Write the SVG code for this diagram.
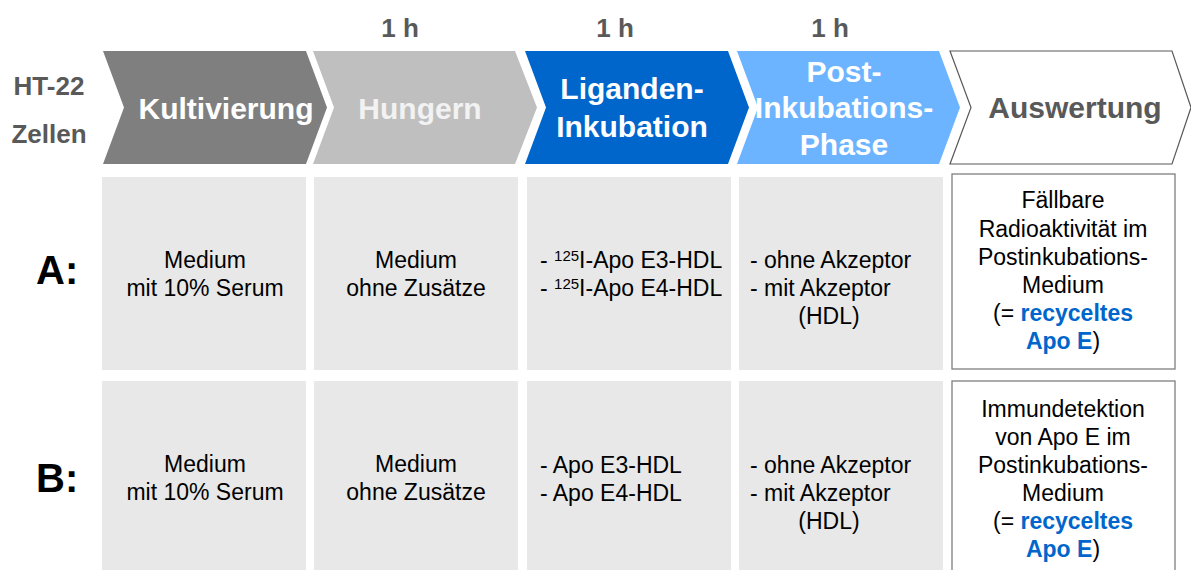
<svg xmlns="http://www.w3.org/2000/svg" width="1191" height="570" viewBox="0 0 1191 570">
<style>
text{font-family:"Liberation Sans",Arial,sans-serif}
.hdr{font-size:26px;font-weight:bold;fill:#595959}
.ttl{font-size:30px;font-weight:bold;text-anchor:middle}
.cell{fill:#e8e8e8}
.t{font-size:23px;fill:#000}
.c{text-anchor:middle}
.row{font-size:40px;font-weight:bold;fill:#000}
.blue{fill:#0066cc;font-weight:bold}
.box{fill:#fff;stroke:#7f7f7f;stroke-width:1.3}
</style>
<rect width="1191" height="570" fill="#fff"/>
<g id="labels">
<text class="hdr" x="49" y="95" text-anchor="middle">HT-22</text>
<text class="hdr" x="49" y="143" text-anchor="middle">Zellen</text>
<text class="hdr" x="400" y="37" text-anchor="middle">1 h</text>
<text class="hdr" x="615" y="37" text-anchor="middle">1 h</text>
<text class="hdr" x="830" y="37" text-anchor="middle">1 h</text>
<text class="row" x="36" y="284">A:</text>
<text class="row" x="36" y="492">B:</text>
</g>
<g id="step-kultivierung">
<path d="M103,51 L306,51 L327,107.5 L306,164 L103,164 L124,107.5 Z" fill="#7f7f7f"/>
<text class="ttl" x="226" y="119" fill="#fff">Kultivierung</text>
</g>
<g id="step-hungern">
<path d="M313,51 L515,51 L537,107.5 L515,164 L313,164 L334,107.5 Z" fill="#bfbfbf"/>
<text class="ttl" x="420" y="119" fill="#f2f2f2">Hungern</text>
</g>
<g id="step-liganden">
<path d="M525,51 L728,51 L749,107.5 L728,164 L525,164 L546,107.5 Z" fill="#0066cc"/>
<text class="ttl" x="632" y="99" fill="#fff">Liganden-</text>
<text class="ttl" x="632" y="137" fill="#fff">Inkubation</text>
</g>
<g id="step-post">
<path d="M737,51 L939,51 L960,107.5 L939,164 L737,164 L758,107.5 Z" fill="#6cb4ff"/>
<text class="ttl" x="844" y="82" fill="#fff">Post-</text>
<text class="ttl" x="844" y="118" fill="#fff">Inkubations-</text>
<text class="ttl" x="844" y="155" fill="#fff">Phase</text>
</g>
<g id="step-auswertung">
<path d="M950,51 L1172,51 L1191,107.5 L1172,164 L950,164 L971,107.5 Z" fill="#fff" stroke="#595959" stroke-width="1.2"/>
<text class="ttl" x="1075" y="118" fill="#595959">Auswertung</text>
</g>
<g id="rowA">
<rect class="cell" x="102" y="177" width="204" height="193"/>
<rect class="cell" x="314" y="177" width="204" height="193"/>
<rect class="cell" x="527" y="177" width="204" height="193"/>
<rect class="cell" x="739" y="177" width="204" height="193"/>
<rect class="box" x="952" y="174" width="223" height="195"/>
<text class="t c" x="205" y="268">Medium</text>
<text class="t c" x="205" y="296">mit 10% Serum</text>
<text class="t c" x="416" y="268">Medium</text>
<text class="t c" x="416" y="296">ohne Zusätze</text>
<text class="t" x="540" y="268">- <tspan font-size="15" dy="-7">125</tspan><tspan dy="7">I-Apo E3-HDL</tspan></text>
<text class="t" x="540" y="296">- <tspan font-size="15" dy="-7">125</tspan><tspan dy="7">I-Apo E4-HDL</tspan></text>
<text class="t" x="750" y="268">- ohne Akzeptor</text>
<text class="t" x="750" y="296">- mit Akzeptor</text>
<text class="t c" x="829" y="324">(HDL)</text>
<text class="t c" x="1063" y="208">Fällbare</text>
<text class="t c" x="1063" y="237">Radioaktivität im</text>
<text class="t c" x="1063" y="265">Postinkubations-</text>
<text class="t c" x="1063" y="293">Medium</text>
<text class="t c" x="1063" y="321">(= <tspan class="blue">recyceltes</tspan></text>
<text class="t c" x="1063" y="349"><tspan class="blue">Apo E</tspan>)</text>
</g>
<g id="rowB">
<rect class="cell" x="102" y="381" width="204" height="195"/>
<rect class="cell" x="314" y="381" width="204" height="195"/>
<rect class="cell" x="527" y="381" width="204" height="195"/>
<rect class="cell" x="739" y="381" width="204" height="195"/>
<rect class="box" x="952" y="381" width="223" height="200"/>
<text class="t c" x="205" y="472">Medium</text>
<text class="t c" x="205" y="500">mit 10% Serum</text>
<text class="t c" x="416" y="472">Medium</text>
<text class="t c" x="416" y="500">ohne Zusätze</text>
<text class="t" x="540" y="473">- Apo E3-HDL</text>
<text class="t" x="540" y="501">- Apo E4-HDL</text>
<text class="t" x="750" y="473">- ohne Akzeptor</text>
<text class="t" x="750" y="501">- mit Akzeptor</text>
<text class="t c" x="829" y="529">(HDL)</text>
<text class="t c" x="1063" y="417">Immundetektion</text>
<text class="t c" x="1063" y="445">von Apo E im</text>
<text class="t c" x="1063" y="473">Postinkubations-</text>
<text class="t c" x="1063" y="501">Medium</text>
<text class="t c" x="1063" y="529">(= <tspan class="blue">recyceltes</tspan></text>
<text class="t c" x="1063" y="557"><tspan class="blue">Apo E</tspan>)</text>
</g>
<g id="connectors"></g>
</svg>
